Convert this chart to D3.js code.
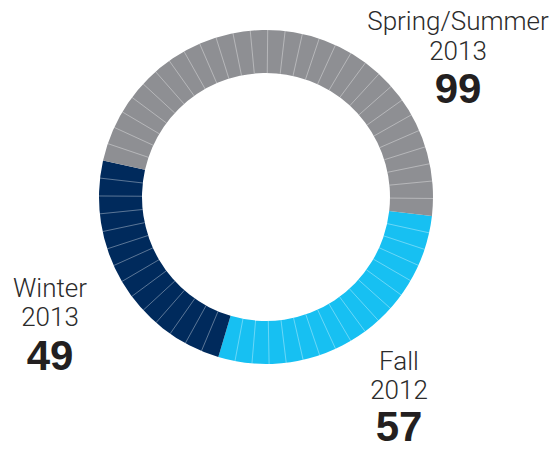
<!DOCTYPE html>
<html>
<head>
<meta charset="utf-8">
<script src="https://cdn.jsdelivr.net/npm/d3@7"></script>
<style>
  body { margin: 0; background: #fff; }
  text { font-family: "Liberation Sans", Arial, sans-serif; }
  .name { font-family: Roboto, "Liberation Sans", sans-serif; font-weight: 300; }
</style>
</head>
<body>
<script>
// data
const seasons = ['Fall', 'Winter', 'Spring/Summer'];
const years = ['2012', '2013', '2013'];
const counts = [57, 49, 99];
const colors = ['#17c0f2', '#002a5c', '#8e8f93'];

const width = 555, height = 450;
const cx = 266, cy = 197;
const outerR = 167, innerR = 124;
const sliceDeg = 6; // approx width of each thin segment

const svg = d3.select('body').append('svg')
    .attr('width', width)
    .attr('height', height);

const g = svg.append('g')
    .attr('transform', `translate(${cx},${cy})`);

const start = 96.5 * Math.PI / 180;
const pie = d3.pie()
    .sort(null)
    .value(d => d)
    .startAngle(start)
    .endAngle(start + 2 * Math.PI);

const arcs = pie(counts);
const arc = d3.arc().innerRadius(innerR).outerRadius(outerR);

// main segments
g.selectAll('path.seg')
    .data(arcs)
    .join('path')
    .attr('class', 'seg')
    .attr('fill', (d, i) => colors[i])
    .attr('d', arc);

// thin separators inside each segment
const ticks = [];
arcs.forEach(a => {
    const span = a.endAngle - a.startAngle;
    const n = Math.max(1, Math.round(span * 180 / Math.PI / sliceDeg));
    for (let k = 1; k < n; k++) ticks.push(a.startAngle + span * k / n);
});

g.selectAll('line.sep')
    .data(ticks)
    .join('line')
    .attr('class', 'sep')
    .attr('x1', a => innerR * Math.sin(a))
    .attr('y1', a => -innerR * Math.cos(a))
    .attr('x2', a => outerR * Math.sin(a))
    .attr('y2', a => -outerR * Math.cos(a))
    .attr('stroke', 'rgba(255,255,255,0.45)')
    .attr('stroke-width', 0.8);

// labels (name baseline, year offset, number offset)
const labelPos = [
    { x: 399, y: 370, dy1: 29, dy2: 71 },
    { x: 50, y: 297, dy1: 29, dy2: 73 },
    { x: 458, y: 30, dy1: 30, dy2: 73 }
];

const labels = svg.selectAll('g.label')
    .data(seasons)
    .join('g')
    .attr('class', 'label')
    .attr('transform', (d, i) => `translate(${labelPos[i].x},${labelPos[i].y})`)
    .attr('text-anchor', 'middle');

labels.append('text')
    .attr('class', 'name')
    .attr('font-size', 26)
    .attr('fill', '#2b2b2b')
    .text(d => d);

labels.append('text')
    .attr('class', 'name')
    .attr('y', (d, i) => labelPos[i].dy1)
    .attr('font-size', 26)
    .attr('fill', '#2b2b2b')
    .text((d, i) => years[i]);

labels.append('text')
    .attr('y', (d, i) => labelPos[i].dy2)
    .attr('font-size', 42)
    .attr('font-weight', 'bold')
    .attr('fill', '#231f20')
    .text((d, i) => counts[i]);
</script>
</body>
</html>
